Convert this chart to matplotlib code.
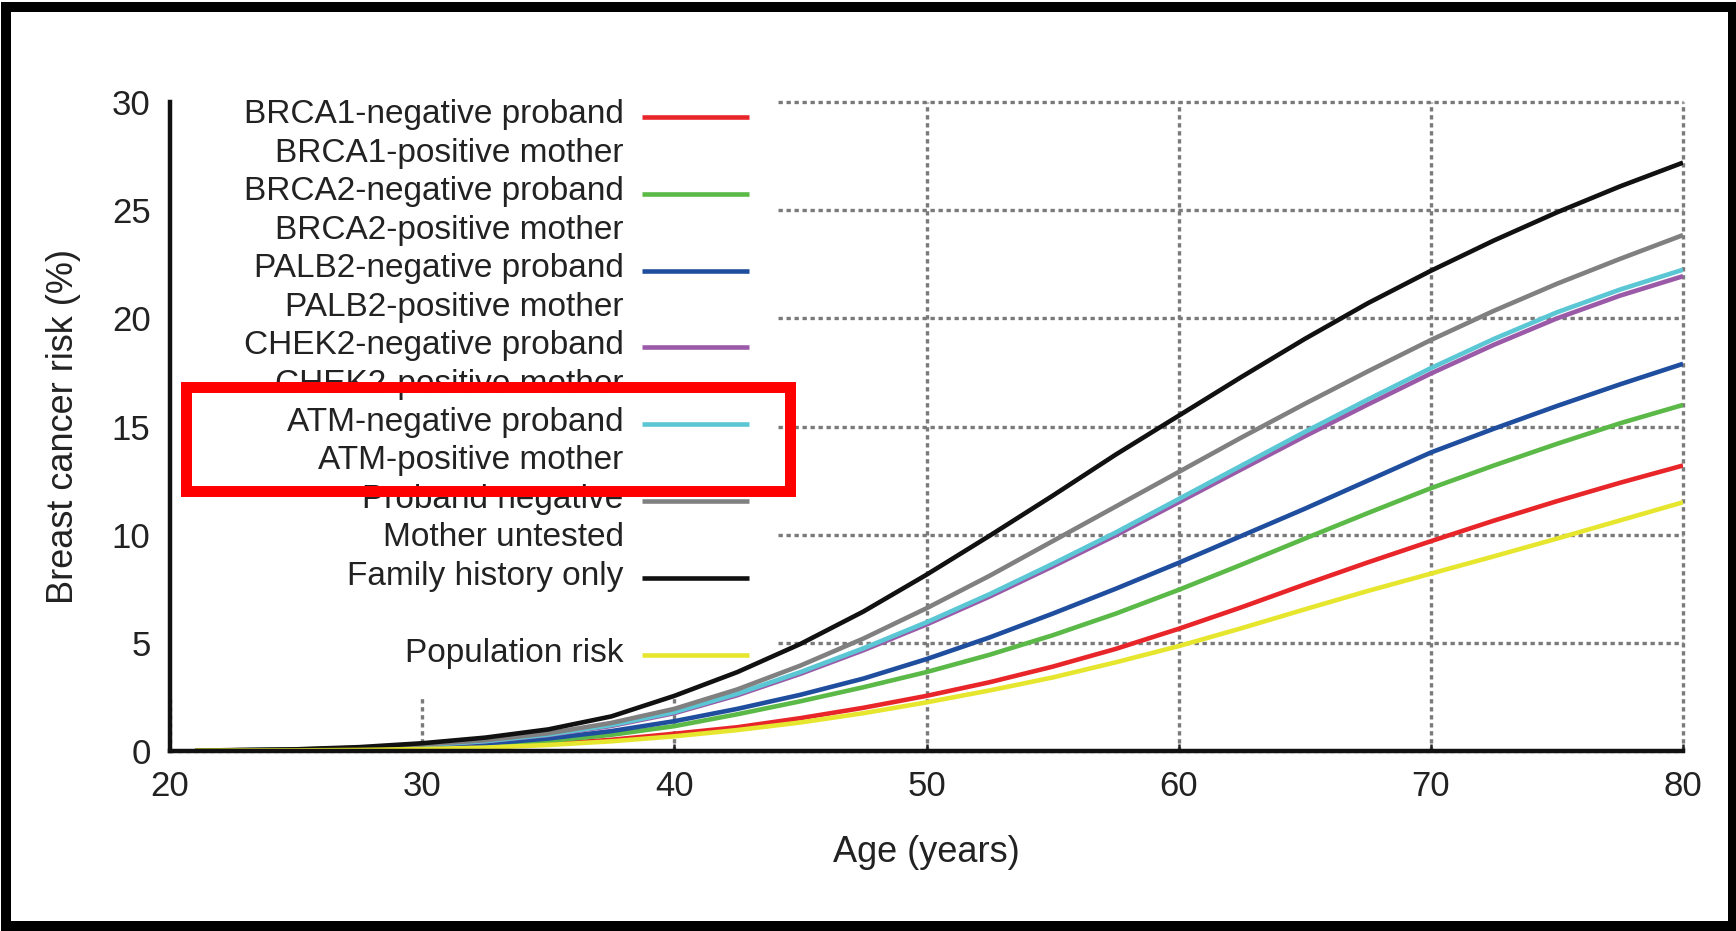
import matplotlib
matplotlib.use("Agg")
import matplotlib.pyplot as plt
from matplotlib.lines import Line2D
from matplotlib.patches import Rectangle
from matplotlib.legend_handler import HandlerLine2D

plt.rcParams['font.family'] = ['Liberation Sans', 'DejaVu Sans']

# values (cumulative risk, %)
ages = [21, 25, 27.5, 30, 32.5, 35, 37.5, 40, 42.5, 45, 47.5, 50, 52.5, 55, 57.5,
        60, 62.5, 65, 67.5, 70, 72.5, 75, 77.5, 80]
brca1 = [0.02, 0.03, 0.06, 0.11, 0.19, 0.32, 0.52, 0.80, 1.10, 1.52, 2.00, 2.55, 3.18, 3.90, 4.72,
         5.65, 6.65, 7.70, 8.72, 9.70, 10.65, 11.55, 12.40, 13.20]
brca2 = [0.02, 0.04, 0.08, 0.15, 0.27, 0.46, 0.75, 1.15, 1.70, 2.30, 2.95, 3.65, 4.45, 5.35, 6.35,
         7.45, 8.62, 9.82, 11.00, 12.15, 13.20, 14.20, 15.15, 16.00]
palb2 = [0.02, 0.05, 0.10, 0.19, 0.34, 0.58, 0.92, 1.38, 1.95, 2.60, 3.35, 4.25, 5.25, 6.35, 7.50,
         8.70, 9.95, 11.20, 12.50, 13.80, 14.90, 15.95, 16.95, 17.90]
chek2 = [0.02, 0.06, 0.13, 0.26, 0.45, 0.74, 1.16, 1.75, 2.58, 3.57, 4.66, 5.85, 7.14, 8.53, 9.97,
         11.50, 13.03, 14.55, 16.02, 17.45, 18.78, 20.00, 21.05, 21.95]
atm = [0.02, 0.06, 0.14, 0.27, 0.46, 0.76, 1.20, 1.80, 2.65, 3.65, 4.75, 5.95, 7.25, 8.65, 10.10,
       11.65, 13.20, 14.75, 16.25, 17.70, 19.05, 20.28, 21.33, 22.25]
untested = [0.02, 0.07, 0.15, 0.30, 0.50, 0.82, 1.30, 1.95, 2.85, 3.95, 5.20, 6.60, 8.10, 9.70, 11.30,
            12.90, 14.50, 16.05, 17.55, 19.00, 20.35, 21.60, 22.75, 23.85]
family = [0.02, 0.08, 0.18, 0.36, 0.62, 1.00, 1.60, 2.55, 3.65, 4.95, 6.45, 8.15, 9.95, 11.80, 13.70,
          15.50, 17.30, 19.05, 20.70, 22.20, 23.60, 24.90, 26.10, 27.20]
population = [0.02, 0.03, 0.05, 0.09, 0.16, 0.28, 0.45, 0.68, 0.97, 1.32, 1.75, 2.25, 2.80, 3.40, 4.10,
              4.85, 5.68, 6.55, 7.40, 8.20, 9.00, 9.82, 10.66, 11.50]

series = [
    (brca1, '#e8262a', 'BRCA1-negative proband', 'BRCA1-positive mother'),
    (brca2, '#5bb947', 'BRCA2-negative proband', 'BRCA2-positive mother'),
    (palb2, '#1f4e9f', 'PALB2-negative proband', 'PALB2-positive mother'),
    (chek2, '#9b5aa8', 'CHEK2-negative proband', 'CHEK2-positive mother'),
    (atm, '#5bc6d4', 'ATM-negative proband', 'ATM-positive mother'),
    (untested, '#808080', 'Proband negative', 'Mother untested'),
    (family, '#111111', 'Family history only', ' '),
    (population, '#e6e62e', 'Population risk', None),
]

xticks = [20, 30, 40, 50, 60, 70, 80]
yticks = [0, 5, 10, 15, 20, 25, 30]


class LowLine(HandlerLine2D):
    # legend line sits a bit below the text middle, as in the original
    def create_artists(self, legend, orig_handle, xdescent, ydescent, width, height, fontsize, trans):
        arts = super().create_artists(legend, orig_handle, xdescent, ydescent, width, height,
                                      fontsize, trans)
        for a in arts:
            a.set_ydata(a.get_ydata() - 0.15 * fontsize)
        return arts


fig = plt.figure(figsize=(17.36, 9.31), dpi=100)
ax = fig.add_axes([0.0979, 0.1933, 0.8716, 0.6971])

handles, labels = [], []
blank = Line2D([], [], color='none')
for vals, col, l1, l2 in series:
    ln, = ax.plot(ages, vals, color=col, lw=3.3, solid_capstyle='butt', zorder=2)
    handles.append(ln)
    labels.append(l1)
    if l2 is not None:
        handles.append(blank)
        labels.append(l2)

ax.set_xlim(20, 80)
ax.set_ylim(0, 30)
ax.set_xticks(xticks)
ax.set_yticks(yticks)
ax.tick_params(direction='in', length=5, width=1.8, labelsize=25, colors='#222222', pad=14)
ax.tick_params(axis='x', pad=14)
for s in ['top', 'right']:
    ax.spines[s].set_visible(False)
for s in ['left', 'bottom']:
    ax.spines[s].set_linewidth(3.2)
    ax.spines[s].set_color('#111111')

ax.set_axisbelow(True)
ax.grid(True, color='#7a7a7a', lw=2.4, linestyle=(0, (1.3, 1.1)))
for gl in ax.get_xgridlines() + ax.get_ygridlines():
    gl.set_clip_on(False)

ax.set_xlabel('Age (years)', fontsize=26, color='#222222', labelpad=23)
ax.set_ylabel('Breast cancer risk (%)', fontsize=26, color='#222222', labelpad=22)

# white panel behind the legend hides the grid there
ax.add_patch(Rectangle((0, 0.084), 0.40, 0.94, transform=ax.transAxes, facecolor='white',
                       edgecolor='none', zorder=1, clip_on=False))

leg = ax.legend(handles, labels, loc='upper right', bbox_to_anchor=(0.40, 1.045),
                markerfirst=False, fontsize=24, frameon=True, framealpha=1,
                edgecolor='none', facecolor='white', fancybox=False,
                handlelength=3.2, handletextpad=0.55, labelspacing=0.223,
                borderpad=0.8, borderaxespad=0, handler_map={Line2D: LowLine()})
leg.set_zorder(1.2)
for t in leg.get_texts():
    t.set_color('#222222')

# red highlight box around the ATM entry
fig.patches.append(Rectangle((0.1071, 0.4726), 0.3477, 0.1112, transform=fig.transFigure,
                             fill=False, edgecolor='#ff0000', lw=7.9, zorder=10))
# black outer frame of the screenshot
fig.patches.append(Rectangle((0.0037, 0.005), 0.9945, 0.987, transform=fig.transFigure,
                             fill=False, edgecolor='black', lw=7.2, zorder=10))

fig.savefig('out.png', dpi=100)
